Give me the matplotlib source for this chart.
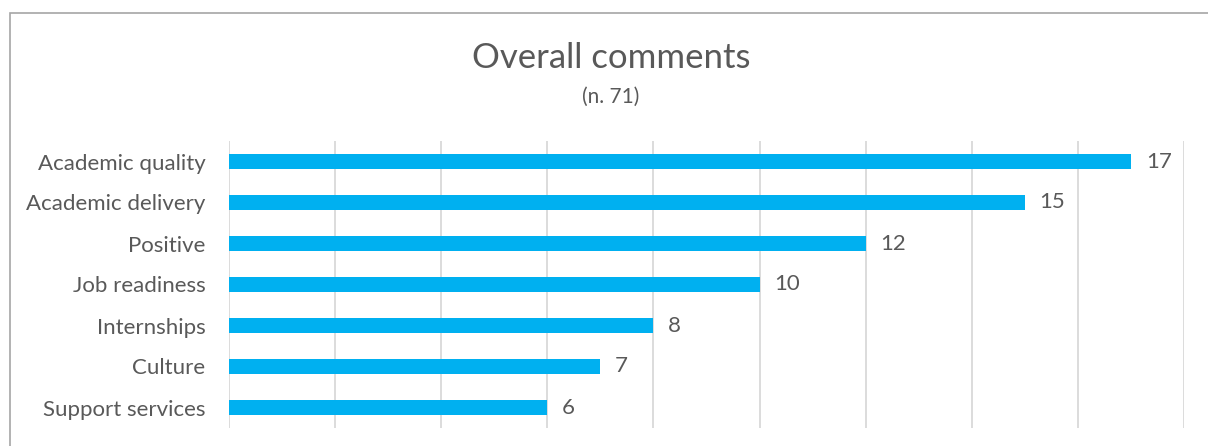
import matplotlib
matplotlib.use("Agg")
import matplotlib.pyplot as plt
from matplotlib.patches import Rectangle

categories = ["Academic quality", "Academic delivery", "Positive", "Job readiness",
              "Internships", "Culture", "Support services"]
counts = [17, 15, 12, 10, 8, 7, 6]
x_ticks = list(range(0, 19, 2))

bar_color = "#00B0F0"
text_color = "#595959"
grid_color = "#D9D9D9"

plt.rcParams["font.family"] = ["Lato", "DejaVu Sans"]

fig = plt.figure(figsize=(12.08, 4.46), dpi=100)
ax = fig.add_axes([229 / 1208, 1 - 428 / 446, (1184 - 229) / 1208, (428 - 141) / 446])

ypos = list(range(len(categories)))
ax.barh(ypos, counts, height=0.35, color=bar_color, zorder=3)
for y, v in zip(ypos, counts):
    ax.text(v + 0.28, y, str(v), va="center", ha="left", fontsize=16, color=text_color)

ax.set_xlim(0, 18)
ax.set_ylim(len(categories) - 0.5, -0.5)
ax.set_xticks(x_ticks)
ax.set_xticklabels([])
ax.tick_params(axis="x", length=0)
ax.tick_params(axis="y", length=0, pad=17, labelsize=16, labelcolor=text_color)
ax.set_yticks(ypos)
ax.set_yticklabels(categories)
ax.grid(axis="x", color=grid_color, linewidth=1.3, zorder=0)
for s in ax.spines.values():
    s.set_visible(False)

fig.text(611 / 1208, 1 - 58 / 446, "Overall comments", ha="center", va="center",
         fontsize=25, color=text_color)
fig.text(611 / 1208, 1 - 97 / 446, "(n. 71)", ha="center", va="center",
         fontsize=15, color=text_color)

fig.patches.append(Rectangle((10 / 1208, -0.1), 1.2, 1 - 13 / 446 + 0.1,
                             transform=fig.transFigure, fill=False,
                             edgecolor="#A6A6A6", linewidth=1.2))

fig.savefig("out.png", dpi=100)
